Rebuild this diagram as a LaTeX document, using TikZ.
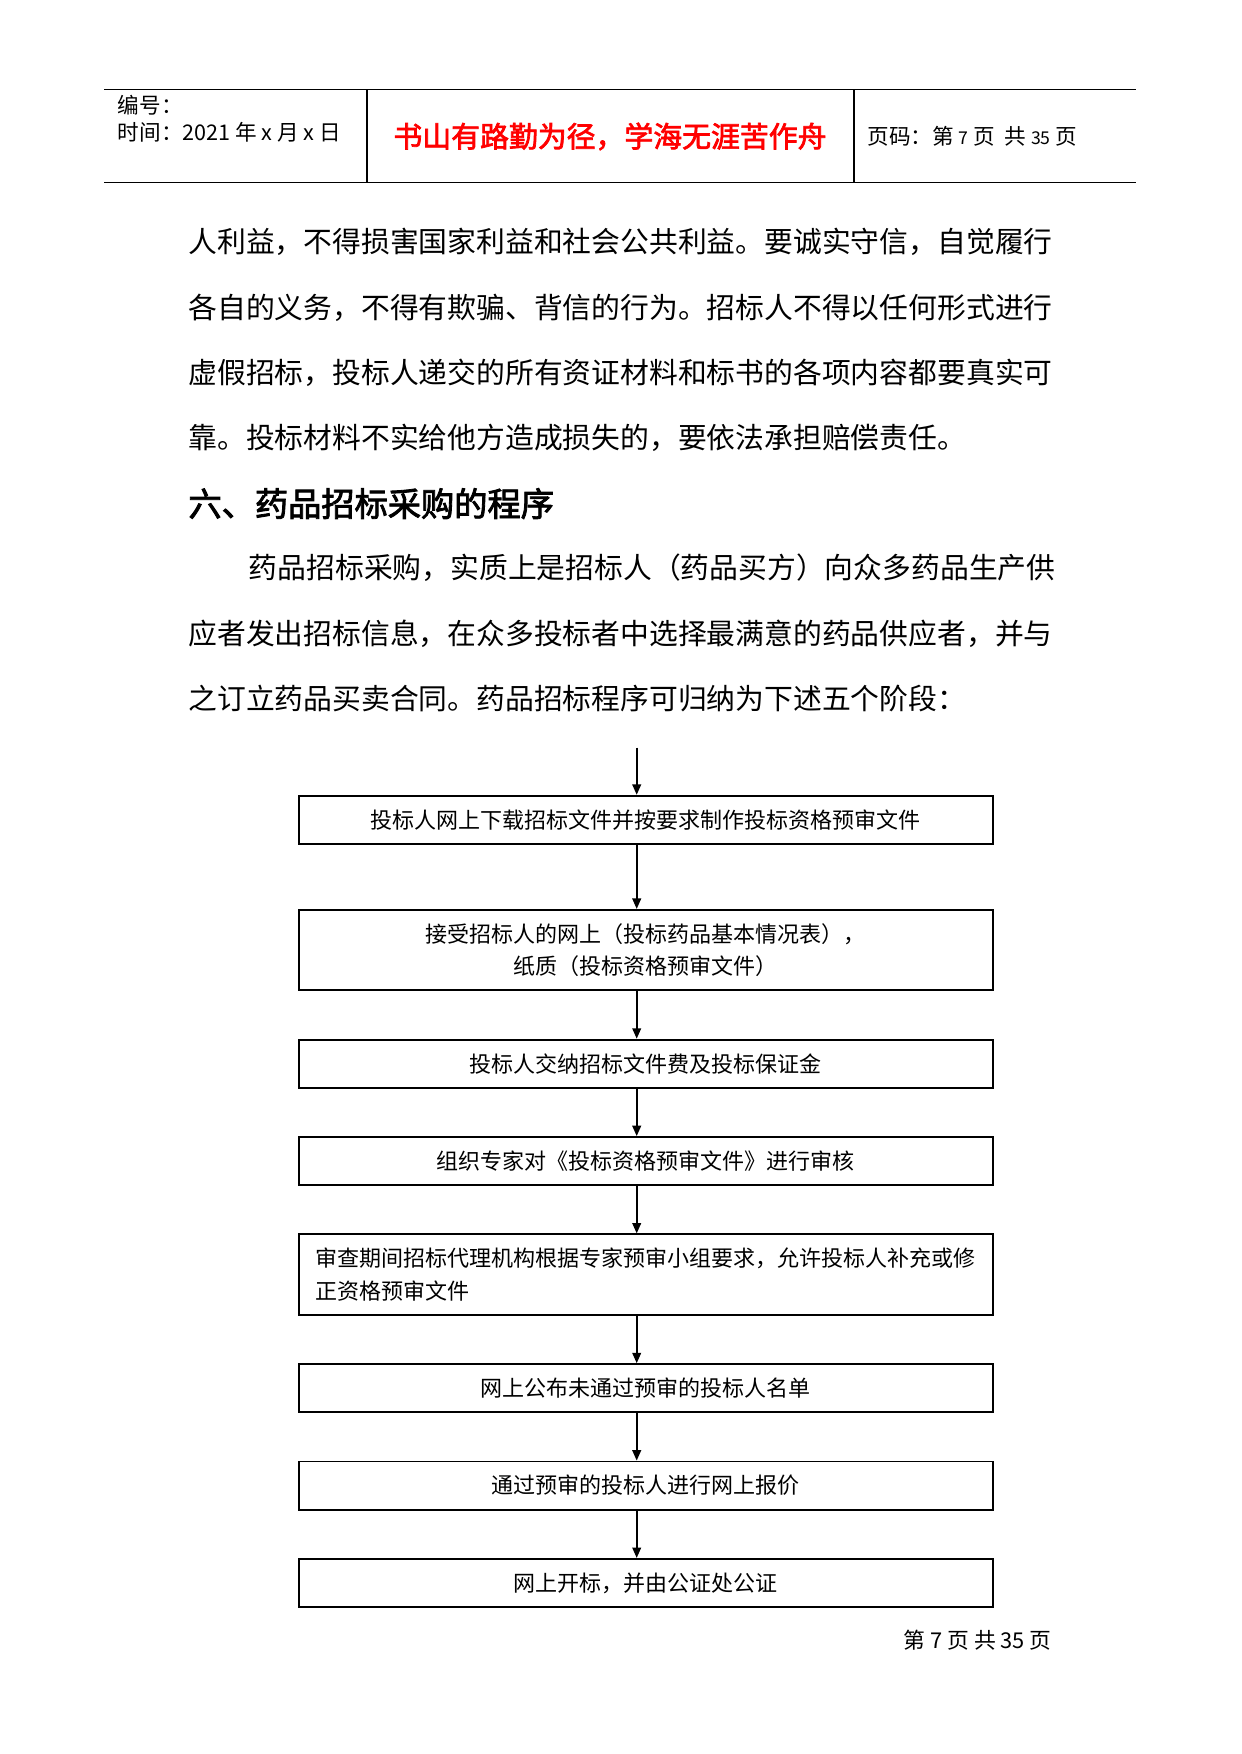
\documentclass[tikz,border=0pt]{standalone}
\usepackage{fontspec}
\setmainfont{Noto Sans CJK SC}
\newfontfamily\cjkbold[FakeBold=2.5]{Noto Sans CJK SC}
\usetikzlibrary{arrows.meta}
\begin{document}
\begin{tikzpicture}[x=0.48147pt,y=-0.48147pt,
  hline/.style={line width=0.7pt},
  hdr/.style={anchor=west,inner sep=0pt,font=\fontsize{10.4}{12}\selectfont},
  body/.style={anchor=west,inner sep=0pt,font=\fontsize{13.87}{16}\selectfont},
  flowbox/.style={draw,line width=0.9pt,minimum width=334pt,minimum height=23.16pt,inner sep=0pt,
    font=\fontsize{10.6}{15.65}\selectfont,align=center},
  tallbox/.style={flowbox,minimum height=38.8pt},
  arr/.style={line width=0.8pt,-{Triangle[length=5pt,width=4.2pt]}}]
\useasboundingbox (0,0) rectangle (1241,1754);
% header
\draw[hline] (104.1,89.5) -- (1135.8,89.5);
\draw[hline] (104.1,182.4) -- (1135.8,182.4);
\draw[hline] (367,89.5) -- (367,182.4);
\draw[hline] (853.8,89.5) -- (853.8,182.4);
\node[hdr] (bh) at (117.5,105) {编号：};
\node[hdr] (sj) at (117.5,132) {时间：2021 年 x 月 x 日};
\node[inner sep=0pt,text=red,font=\fontsize{13.9}{16}\selectfont\cjkbold] (motto) at (610,136.5) {书山有路勤为径，学海无涯苦作舟};
\node[hdr] (ym) at (867,136.5) {页码：第 {\fontsize{8.5}{10}\selectfont 7} 页\ \ 共 {\fontsize{8.5}{10}\selectfont 35} 页};
% body
\node[body] (l1) at (188,241.7) {人利益，不得损害国家利益和社会公共利益。要诚实守信，自觉履行};
\node[body] (l2) at (188,307.7) {各自的义务，不得有欺骗、背信的行为。招标人不得以任何形式进行};
\node[body] (l3) at (188,372.7) {虚假招标，投标人递交的所有资证材料和标书的各项内容都要真实可};
\node[body] (l4) at (188,437.6) {靠。投标材料不实给他方造成损失的，要依法承担赔偿责任。};
\node[anchor=west,inner sep=0pt,font=\fontsize{16}{18}\selectfont\cjkbold] (h6) at (188,503.6) {六、药品招标采购的程序};
\node[body] (p1) at (248.4,567.4) {药品招标采购，实质上是招标人（药品买方）向众多药品生产供};
\node[body] (p2) at (188,633.4) {应者发出招标信息，在众多投标者中选择最满意的药品供应者，并与};
\node[body] (p3) at (188,698.3) {之订立药品买卖合同。药品招标程序可归纳为下述五个阶段：};
% flowchart
\coordinate (ax) at (636.7,747.5);
\node[flowbox] (b1) at (645.7,819.75) {投标人网上下载招标文件并按要求制作投标资格预审文件};
\node[tallbox] (b2) at (645.7,950.1) {接受招标人的网上（投标药品基本情况表），\\纸质（投标资格预审文件）};
\node[flowbox] (b3) at (645.7,1063.65) {投标人交纳招标文件费及投标保证金};
\node[flowbox] (b4) at (645.7,1161.05) {组织专家对《投标资格预审文件》进行审核};
\node[tallbox,align=left,text width=318pt,inner xsep=8pt] (b5) at (645.7,1274.6) {审查期间招标代理机构根据专家预审小组要求，允许投标人补充或修\\正资格预审文件};
\node[flowbox] (b6) at (645.7,1388.15) {网上公布未通过预审的投标人名单};
\node[flowbox] (b7) at (645.7,1485.55) {通过预审的投标人进行网上报价};
\node[flowbox] (b8) at (645.7,1582.9) {网上开标，并由公证处公证};
\draw[arr] (ax) -- (b1.north -| ax);
\draw[arr] (b1.south -| ax) -- (b2.north -| ax);
\draw[arr] (b2.south -| ax) -- (b3.north -| ax);
\draw[arr] (b3.south -| ax) -- (b4.north -| ax);
\draw[arr] (b4.south -| ax) -- (b5.north -| ax);
\draw[arr] (b5.south -| ax) -- (b6.north -| ax);
\draw[arr] (b6.south -| ax) -- (b7.north -| ax);
\draw[arr] (b7.south -| ax) -- (b8.north -| ax);
% footer
\node[anchor=east,inner sep=0pt,font=\fontsize{10.5}{12}\selectfont] (ft) at (1052,1640.5) {第 7 页 共 35 页};
\end{tikzpicture}
\end{document}
